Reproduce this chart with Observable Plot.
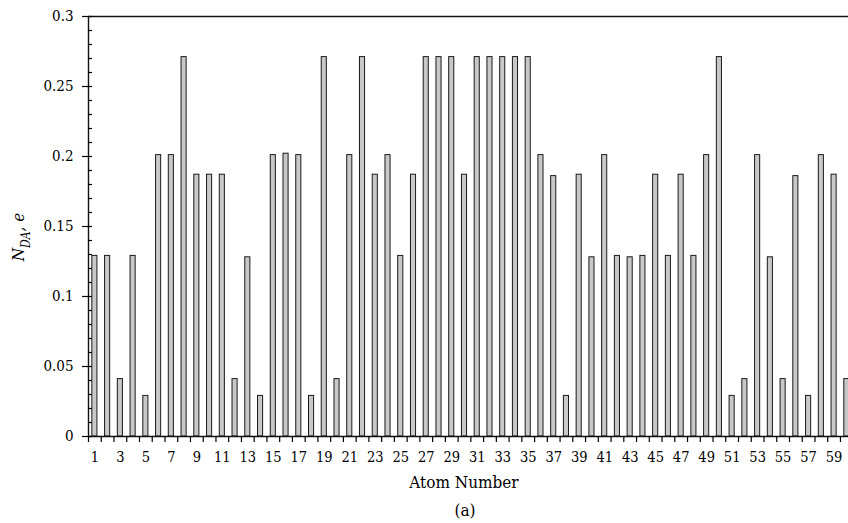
<!DOCTYPE html>
<html><head><meta charset="utf-8">
<script src="https://cdn.jsdelivr.net/npm/d3@7"></script>
<script src="https://cdn.jsdelivr.net/npm/@observablehq/plot@0.6"></script>
<style>body{margin:0;background:#fff}</style>
</head><body><div id="chart"></div>
<script>
const atoms = d3.range(1, 61);
const values = [
  0.129, 0.129, 0.041, 0.129, 0.029, 0.201, 0.201, 0.271, 0.187, 0.187,
  0.187, 0.041, 0.128, 0.029, 0.201, 0.202, 0.201, 0.029, 0.271, 0.041,
  0.201, 0.271, 0.187, 0.201, 0.129, 0.187, 0.271, 0.271, 0.271, 0.187,
  0.271, 0.271, 0.271, 0.271, 0.271, 0.201, 0.186, 0.029, 0.187, 0.128,
  0.201, 0.129, 0.128, 0.129, 0.187, 0.129, 0.187, 0.129, 0.201, 0.271,
  0.029, 0.041, 0.201, 0.128, 0.041, 0.186, 0.029, 0.201, 0.187, 0.041
];
const yTicks = [0, 0.05, 0.1, 0.15, 0.2, 0.25, 0.3];
const yTickLabels = ["0", "0.05", "0.1", "0.15", "0.2", "0.25", "0.3"];
const xTicks = d3.range(1, 60, 2);
const xTickLabels = xTicks.map(String);
const xTitle = "Atom Number";
const caption = "(a)";

const FONT = "'DejaVu Serif Condensed', 'DejaVu Serif', serif";
const data = atoms.map((a, i) => ({atom: a, value: values[i]}));
const yMinor = d3.range(0, 31).filter(i => i % 5 !== 0).map(i => i / 100);
const xBounds = d3.range(0, 60).map(i => i + 0.5);

const plot = Plot.plot({
  width: 848, height: 523,
  marginLeft: 88, marginRight: 0, marginTop: 16, marginBottom: 87,
  style: {fontFamily: FONT, fontSize: "14.5px", color: "#000", background: "#fff"},
  x: {type: "linear", domain: [0.5, 60.13]},
  y: {domain: [0, 0.3]},
  marks: [
    Plot.rectY(data, {x1: d => d.atom - 0.2, x2: d => d.atom + 0.2, y: "value", fill: "#c8c8c8", stroke: "#1a1a1a", strokeWidth: 1}),
    Plot.ruleY([0.3], {stroke: "#111", strokeWidth: 1.4}),
    Plot.ruleY([0], {stroke: "#111", strokeWidth: 1.4}),
    Plot.ruleX([0.5], {stroke: "#111", strokeWidth: 1.4}),
    Plot.axisY({ticks: yTicks, tickFormat: d => yTickLabels[yTicks.indexOf(d)], tickSize: 0, tickPadding: 15, label: null, fontSize: 15}),
    Plot.axisY({ticks: yTicks, tickFormat: () => "", tickSize: 10, dx: 4, label: null, strokeWidth: 1.2}),
    Plot.axisY({ticks: yMinor, tickFormat: () => "", tickSize: 4, dx: 4, label: null, strokeWidth: 1.2}),
    Plot.axisX({ticks: xBounds, tickFormat: () => "", tickSize: 6, label: null, strokeWidth: 1.2}),
    Plot.axisX({ticks: xTicks, tickFormat: d => xTickLabels[xTicks.indexOf(d)], tickSize: 0, tickPadding: 15, label: null, fontSize: 14.5})
  ]
});

const svg = d3.select(plot);
svg.append("text")
  .attr("x", 464).attr("y", 488)
  .attr("text-anchor", "middle")
  .style("font-family", FONT).style("font-size", "17px").attr("fill", "#000")
  .text(xTitle);
svg.append("text")
  .attr("x", 465).attr("y", 516)
  .attr("text-anchor", "middle")
  .style("font-family", FONT).style("font-size", "17px").attr("fill", "#000")
  .text(caption);
const yt = svg.append("text")
  .attr("transform", "translate(24,237) rotate(-90)")
  .attr("text-anchor", "middle")
  .style("font-family", FONT).style("font-size", "17px").style("font-style", "italic").attr("fill", "#000");
yt.append("tspan").text("N");
yt.append("tspan").attr("dy", 6).style("font-size", "12px").text("DA");
yt.append("tspan").attr("dy", -6).text(", e");

document.getElementById("chart").appendChild(plot);
</script>
</body></html>
